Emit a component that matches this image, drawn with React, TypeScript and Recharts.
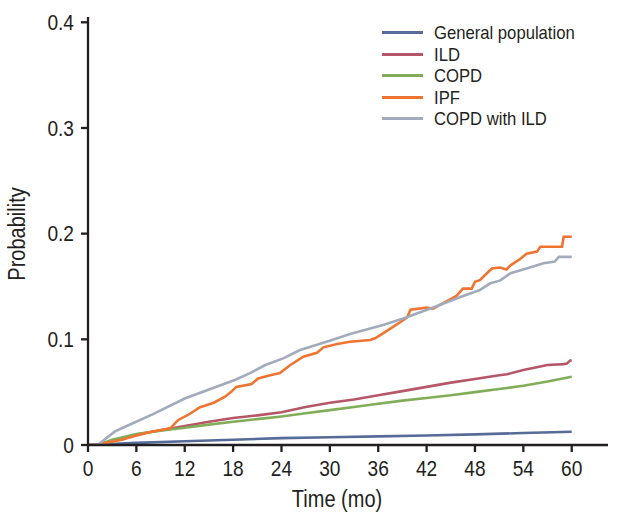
import React from "react";
import { LineChart, Line, XAxis, YAxis } from "recharts";

// time (months) and cumulative probability
const genPopT = [0, 1.5, 6, 12, 18, 24, 30, 36, 42, 48, 54, 60];
const genPopP = [0, 0.0005, 0.002, 0.0035, 0.005, 0.0065, 0.0074, 0.0082, 0.009, 0.0101, 0.0113, 0.0125];

const ildT = [0, 1.2, 3, 6, 9, 12, 15, 18, 21, 24, 27, 30, 33, 36, 39, 42, 45, 48, 51, 52, 54, 57, 59, 59.4, 59.8, 60];
const ildP = [0, 0, 0.004, 0.01, 0.014, 0.018, 0.022, 0.0255, 0.028, 0.031, 0.036, 0.04, 0.043, 0.047, 0.051, 0.055, 0.059, 0.0625, 0.066, 0.067, 0.071, 0.0757, 0.0765, 0.077, 0.08, 0.08];

const copdT = [0, 1.2, 3, 6, 9, 12, 15, 18, 21, 24, 27, 30, 33, 36, 39, 42, 45, 48, 51, 54, 57, 60];
const copdP = [0, 0, 0.005, 0.0104, 0.0135, 0.0164, 0.0193, 0.022, 0.0245, 0.027, 0.03, 0.033, 0.036, 0.039, 0.042, 0.0445, 0.047, 0.05, 0.053, 0.056, 0.06, 0.0646];

const ipfT = [0, 1.5, 2.1, 4.2, 5.8, 7.9, 10.2, 11.2, 12.4, 13.9, 15.6, 17.0, 17.8, 18.4, 20.3, 21.1, 22.6, 23.8, 25.1, 26.7, 28.4, 29.2, 30.9, 32.5, 35.0, 35.6, 36.6, 39.1, 39.6, 40.0, 42.0, 42.8, 45.7, 46.5, 47.6, 48.0, 48.6, 50.1, 51.1, 51.9, 52.4, 53.0, 53.6, 54.4, 55.7, 56.1, 58.8, 59.0, 60];
const ipfP = [0, 0, 0.002, 0.005, 0.0085, 0.0126, 0.0158, 0.0237, 0.0284, 0.0357, 0.04, 0.0457, 0.0505, 0.055, 0.0577, 0.063, 0.066, 0.068, 0.0757, 0.0835, 0.0873, 0.0924, 0.0956, 0.0977, 0.0993, 0.101, 0.1057, 0.118, 0.121, 0.128, 0.13, 0.129, 0.141, 0.148, 0.148, 0.1545, 0.156, 0.167, 0.168, 0.166, 0.17, 0.173, 0.176, 0.181, 0.183, 0.1876, 0.1876, 0.197, 0.197];

const copdIldT = [0, 1.2, 3.3, 4.6, 8, 12, 18.2, 20.1, 22, 24.2, 26.3, 30, 32.5, 36.6, 39.1, 42.4, 46.2, 48.6, 49.9, 51.1, 52.4, 54.4, 56.5, 57.9, 58.4, 60];
const copdIldP = [0, 0, 0.0126, 0.0173, 0.029, 0.044, 0.0615, 0.068, 0.0757, 0.082, 0.0899, 0.0987, 0.105, 0.1135, 0.1198, 0.129, 0.14, 0.1466, 0.153, 0.1555, 0.1625, 0.167, 0.172, 0.1735, 0.178, 0.178];

const xTicks = [0, 6, 12, 18, 24, 30, 36, 42, 48, 54, 60];
const yTicks = [0, 0.1, 0.2, 0.3, 0.4];

const toPoints = (t: number[], p: number[]) => t.map((v, i) => ({ t: v, p: p[i] }));

const series = [
  { name: "General population", color: "#566b98", data: toPoints(genPopT, genPopP) },
  { name: "ILD", color: "#b65768", data: toPoints(ildT, ildP) },
  { name: "COPD", color: "#82ad58", data: toPoints(copdT, copdP) },
  { name: "IPF", color: "#ef7432", data: toPoints(ipfT, ipfP) },
  { name: "COPD with ILD", color: "#a3aabb", data: toPoints(copdIldT, copdIldP) },
];

// no narrow font installed, so squeeze Liberation Sans a bit
const FONT = "'Liberation Sans', Arial, sans-serif";
const SQUEEZE = 0.87;
const INK = "#231f20";
const axisStyle = { stroke: INK, strokeWidth: 2.3 };

const XTick = (props: any) => {
  const { x, y, payload } = props;
  return (
    <g transform={`translate(${x},${y})`}>
      <text transform={`scale(${SQUEEZE},1)`} textAnchor="middle" dy="0.71em" fill={INK} fontSize={22} fontFamily={FONT}>
        {payload.value}
      </text>
    </g>
  );
};

const YTick = (props: any) => {
  const { x, y, payload } = props;
  const label = payload.value === 0 ? "0" : String(payload.value);
  return (
    <g transform={`translate(${x},${y})`}>
      <text transform={`scale(${SQUEEZE},1)`} textAnchor="end" dy="0.355em" fill={INK} fontSize={22} fontFamily={FONT}>
        {label}
      </text>
    </g>
  );
};

const XLabel = () => (
  <g transform="translate(337,507)">
    <text transform={`scale(${SQUEEZE},1)`} textAnchor="middle" fill={INK} fontSize={23} fontFamily={FONT}>
      Time (mo)
    </text>
  </g>
);

const YLabel = () => (
  <g transform="translate(17,234) rotate(-90)">
    <text transform={`scale(${SQUEEZE},1)`} textAnchor="middle" dominantBaseline="central" fill={INK} fontSize={23} fontFamily={FONT}>
      Probability
    </text>
  </g>
);

export default function App() {
  return (
    <div style={{ position: "absolute", left: 0, top: 0, width: 619, height: 518, background: "#fff" }}>
      <LineChart width={619} height={518} margin={{ top: 17, right: 11, bottom: 0, left: 0 }}>
        <XAxis
          type="number"
          dataKey="t"
          domain={[0, 64.5]}
          ticks={xTicks}
          allowDataOverflow
          height={73}
          tickSize={7}
          tickMargin={8}
          axisLine={axisStyle}
          tickLine={axisStyle}
          tick={<XTick />}
          label={{ content: XLabel }}
        />
        <YAxis
          type="number"
          dataKey="p"
          domain={[0, 0.405]}
          ticks={yTicks}
          allowDataOverflow
          width={88}
          tickSize={7}
          tickMargin={7}
          axisLine={axisStyle}
          tickLine={axisStyle}
          tick={<YTick />}
          label={{ content: YLabel }}
        />
        {series.map((s) => (
          <Line
            key={s.name}
            data={s.data}
            dataKey="p"
            type="linear"
            stroke={s.color}
            strokeWidth={2.6}
            dot={false}
            isAnimationActive={false}
          />
        ))}
      </LineChart>
      <div style={{ position: "absolute", left: 382, top: 22, fontFamily: FONT, fontSize: 18.5, color: INK }}>
        {series.map((s) => (
          <div key={s.name} style={{ display: "flex", alignItems: "center", height: 21.5 }}>
            <div style={{ width: 41, height: 3, background: s.color, marginRight: 11, flex: "none" }} />
            <span style={{ lineHeight: "21.5px", whiteSpace: "nowrap", display: "inline-block", transform: "scaleX(0.9)", transformOrigin: "left center" }}>
              {s.name}
            </span>
          </div>
        ))}
      </div>
    </div>
  );
}
